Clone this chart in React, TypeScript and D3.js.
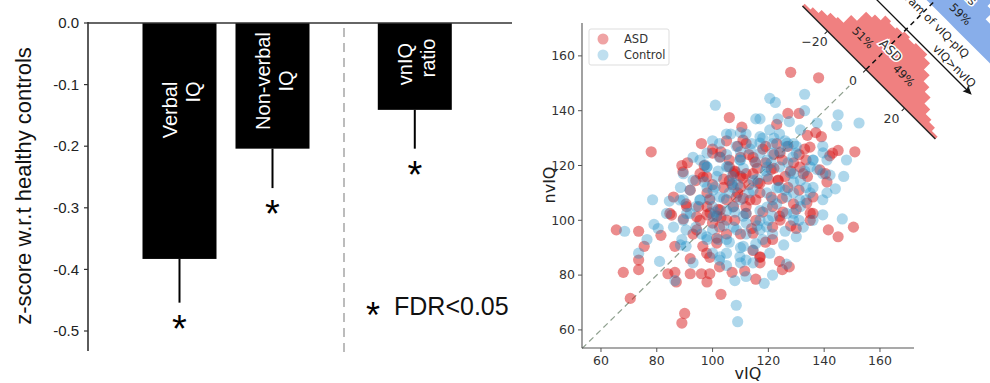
import React from 'react';
import * as d3 from 'd3';

// ---------------- data: left bar chart ----------------
const barLabels: string[][] = [['Verbal', 'IQ'], ['Non-verbal', 'IQ'], ['vnIQ', 'ratio']];
const barValues = [-0.383, -0.204, -0.141];
const barErrorEnds = [-0.454, -0.268, -0.204];
const barTicks = [0, -0.1, -0.2, -0.3, -0.4, -0.5];

// ---------------- data: scatter ----------------
const scatterTicks = [60, 80, 100, 120, 140, 160];
const asdPoints: [number, number][] = [
  [128, 154], [138, 152], [106, 137.5], [127, 139], [131, 139], [123, 135], [110.5, 134], [78, 125], [96, 128], [100, 126],
  [105, 129], [137, 132], [134, 131], [139, 130.5], [133, 126], [143, 124.5], [145, 125.5], [142, 123.5], [151, 125], [89, 120],
  [91, 121], [97, 120], [100, 124.5], [65.5, 96.5], [73.5, 96], [75.5, 90.5], [81.5, 94.5], [86.5, 90.5], [68, 81], [73.5, 82],
  [73.5, 85.5], [70.5, 71.5], [84, 80.5], [86.5, 81], [87, 77.5], [92, 80.5], [92, 86], [96, 80.5], [99, 80.5], [98, 77.5],
  [102.5, 83], [103, 73], [107, 81], [111.5, 81.5], [115.5, 78.5], [124, 85], [125, 82], [127.5, 83], [90, 66], [89, 62.5],
  [141.5, 96.5], [145, 94], [150.5, 97.5], [136, 102.5], [135, 100], [130, 97], [112, 102.5], [117, 84.5], [117, 86.5], [86, 108.5],
  [90.5, 106], [95.5, 117], [92, 111], [94, 114.5], [89.5, 100.5], [93, 95], [96.5, 90.5], [99, 86.5], [101.5, 93.5], [141, 114],
  [140.5, 117], [127, 112], [123.5, 114.5], [121, 118.5], [114.5, 123], [110, 123], [112, 128], [119, 127], [129, 121], [132.5, 117],
  [136, 108.5], [121.5, 105], [107.5, 117], [105, 107.5], [101.5, 101.5], [110, 95], [114.5, 89], [121.5, 93], [104, 112], [106, 114.5],
  [99, 107.5], [115.5, 107.5], [124, 101.5], [129, 106], [131, 111], [110, 112], [112, 117], [117, 113.5], [107.5, 105], [102.5, 97.5],
  [95.5, 100], [98, 105], [115.5, 100], [121, 108.5], [125, 122], [133.5, 122], [106, 119.5], [108.5, 108.5], [114.5, 117], [121.5, 97.5],
  [108, 118], [110, 116], [107, 113], [109, 110], [111, 108], [104, 115], [103, 101], [100, 99], [98, 102], [102, 104],
  [113, 113], [116, 119], [119, 121], [122, 124], [126, 116], [128, 118], [125, 108], [130, 104], [118, 103], [114, 97],
  [105, 95], [108, 100], [112, 105], [117, 110], [120, 115], [122, 119], [98, 110], [95, 105], [100, 113], [106, 122],
  [103, 125], [109, 127], [113, 124], [118, 126], [123, 128], [127, 127], [131, 124], [134, 116], [128, 98], [119, 92],
  [108, 117.7], [110.9, 115.4], [116.3, 113.6], [123.5, 114.7], [131.3, 119.4], [115.2, 121.3], [102.7, 123.1], [96.6, 115.8], [113.4, 107.4], [125.2, 103],
  [133.8, 106.3], [102.7, 103.8], [110.9, 129.3], [124.2, 124.6], [134.9, 126.7], [138.5, 118.4], [85.3, 101.9], [90.7, 105], [99.1, 102.7], [94.3, 101.3],
  [97.9, 115.9], [89.4, 117.7], [84.7, 102.5], [94.3, 96.5], [101.5, 91.7], [105.1, 100.1], [114.5, 95.3], [124.2, 100.1], [135, 102.6], [117, 86.7],
  [97.9, 88],
];
const controlPoints: [number, number][] = [
  [101, 142], [120.5, 144.5], [122.5, 143], [133, 146], [133, 140], [115.5, 137], [117, 137], [123.5, 137], [127.5, 136], [137.5, 135.5],
  [145, 138.5], [144.5, 134.5], [152.5, 135.5], [131.5, 133], [124, 131.5], [120.5, 133], [117, 130.5], [106.5, 131.5], [100, 129], [139.5, 127],
  [148, 122], [147, 116], [144, 111.5], [139.5, 107.5], [139.5, 102], [146.5, 100.5], [136, 100], [132.5, 97.5], [130, 94], [125.5, 91],
  [121.5, 95], [115.5, 91.5], [114.5, 84.5], [118.5, 77], [121.5, 80], [126.5, 84], [108, 78], [110, 84.5], [108.5, 69], [109, 63],
  [102.5, 85.5], [105, 93], [93, 84.5], [88.5, 91], [86.5, 78], [81, 85], [73.5, 88], [76.5, 93], [68.5, 96], [78.5, 107.5],
  [79, 98.5], [80.5, 97], [83.5, 102.5], [84.5, 107], [88.5, 112], [89.5, 117], [93, 123], [95.5, 122], [98, 124.5], [102.5, 128],
  [105, 131.5], [110, 132], [112, 131.5], [113.5, 126], [121.5, 128], [126.5, 127], [129, 128], [136, 122], [137.5, 118.5], [131.5, 114.5],
  [136, 112], [129, 110], [126.5, 102.5], [131.5, 105], [121.5, 101.5], [117, 96.5], [112, 95], [107.5, 97.5], [100, 96.5], [94, 97.5],
  [92, 102.5], [95.5, 107.5], [98, 112], [101.5, 116], [105, 119.5], [110, 122], [115.5, 121], [119.5, 122], [124, 119.5], [129, 117],
  [124, 112], [119.5, 110], [114.5, 111], [110, 107.5], [105, 103.5], [100, 105], [112, 102.5], [117, 103.5], [121.5, 107.5], [126.5, 108.5],
  [133.5, 107.5], [133.5, 112], [119.5, 116], [114.5, 114.5], [107.5, 112], [102.5, 108.5], [94, 105], [90.5, 96.5], [98, 93], [105, 88],
  [111, 90.5], [112, 85.5], [120.5, 88], [117, 100], [129, 100], [98, 119.5], [102.5, 123], [108.5, 127], [117, 124.5], [121.5, 124.5],
  [130, 124.5], [135, 119.5], [139.5, 117], [141, 122], [141, 110], [111, 101.5], [101.5, 101.5], [89.5, 107.5], [86, 97.5], [90.5, 90.5],
  [105, 83.5], [112, 79.5], [89, 93], [89.5, 100],
  [107, 116], [109, 113], [111, 119], [106, 110], [104, 108], [113, 110], [116, 115], [119, 118], [121, 121], [124, 125],
  [127, 121], [129, 114], [126, 111], [123, 106], [120, 100], [116, 98], [112, 99], [108, 103], [104, 98], [101, 103],
  [99, 108], [97, 114], [102, 118], [105, 124], [110, 125], [114, 128], [118, 130], [122, 130], [126, 129], [130, 127],
  [133, 118], [135, 110], [131, 100], [126, 96], [118, 93], [110, 90], [106, 92], [102, 93], [96, 95], [100, 88],
  [105.5, 119.6], [107, 113.6], [123.1, 111.8], [127.8, 117.3], [136, 122], [119.5, 119.4], [109.8, 122], [98, 119.4], [100.9, 112.1], [119.5, 104.8],
  [131.3, 107.4], [107.3, 104.8], [117, 128.2], [126.7, 128.2], [128.8, 123.1], [139.6, 124.6], [142.1, 116.5], [91.9, 111], [95.5, 107.4], [88.3, 107.4],
  [100.2, 111], [97.3, 120.2], [93, 114.7], [90.7, 102.5], [97.9, 94], [100.2, 101.3], [108.6, 96.5], [119.4, 97.6], [129, 102.6], [114.5, 89.2],
  [109.8, 86.7], [102.7, 86.7],
];

// ---------------- data: rotated histogram inset (vIQ - nvIQ) ----------------
const histBinEdges = [-33, -30, -27, -24, -21, -18, -15, -12, -9, -6, -3, 0, 3, 6, 9, 12, 15, 18, 21, 24, 27, 30, 33, 36];
const asdHistCounts = [1.5, 3, 5, 7, 8, 13, 19, 21, 24, 23, 24, 25, 24, 25, 25, 23, 19, 15, 12, 8, 5, 3.5, 1.5];
const controlHistCounts = [1, 2, 4, 6, 9, 12, 15, 19, 22, 24, 26, 26, 26, 25, 24, 22, 18, 13, 12, 9, 6, 3, 1];
const histTicks = [-20, 0, 20];
const asdSplit = ['51%', '49%'];
const controlSplit = ['41%', '59%'];

export default function App() {
  const W = 990, H = 383;

  // ----- left chart scales -----
  const yBar = d3.scaleLinear().domain([0, -0.5]).range([23, 331]);
  const xBar = d3.scaleLinear().domain([0, 1]).range([179.5, 272.5]);
  const barPos = [0, 1, 2.53];
  const barW = 74;
  const labelLineY = [[110, 92], [81, 81], [64, 58]];
  const axisX = 88;
  const axisBottom = 351;

  // ----- scatter scales -----
  const xS = d3.scaleLinear().domain([53.2, 172.2]).range([582, 914]);
  const yS = d3.scaleLinear().domain([53.4, 172]).range([348, 23]);

  // ----- inset geometry -----
  const ox = xS(155), oy = yS(155);
  const uS = d3.scaleLinear().domain([-20, 20]).range([-54.5, 54.5]);
  const hS = d3.scaleLinear().domain([0, 25]).range([0, 54]);
  const c45 = Math.SQRT1_2;
  const toScreen = (d: number, h: number): [number, number] => [ox + (d + h) * c45, oy + (d - h) * c45];
  const blueBase = 92;
  const arrowH = 57;

  const histArea = (counts: number[], base: number) => {
    const pts = histBinEdges.map((e, i) => ({ e, c: i < counts.length ? counts[i] : counts[counts.length - 1] }));
    return d3.area<{ e: number; c: number }>()
      .x(p => uS(p.e))
      .y0(-base)
      .y1(p => -base - hS(p.c))
      .curve(d3.curveStepAfter)(pts) || '';
  };

  const sansL = 'Liberation Sans, Arial, sans-serif';
  const sansD = 'DejaVu Sans, sans-serif';
  const tickCol = '#333';
  const red = '#d8191c', redOp = 0.5;
  const blue = '#1f8fc8', blueOp = 0.36;

  return (
    <svg width={W} height={H} style={{ position: 'absolute', left: 0, top: 0, background: '#fff' }}>
      <rect x={0} y={0} width={W} height={H} fill="#fff" />
      {/* ================= LEFT BAR CHART ================= */}
      <g>
        {barValues.map((v, i) => {
          const cx = xBar(barPos[i]);
          return (
            <g key={i}>
              <rect x={cx - barW / 2} y={yBar(0)} width={barW} height={yBar(v) - yBar(0)} fill="#000" />
              <line x1={cx} x2={cx} y1={yBar(v)} y2={yBar(barErrorEnds[i])} stroke="#000" strokeWidth={2} />
              <text x={cx} y={yBar(barErrorEnds[i]) + 39} textAnchor="middle" fontFamily={sansL} fontSize={38} fill="#000">*</text>
              <text transform={`translate(${cx - 3},${labelLineY[i][0]}) rotate(-90)`} textAnchor="middle"
                fontFamily={sansL} fontSize={20} fill="#fff">{barLabels[i][0]}</text>
              <text transform={`translate(${cx + 20},${labelLineY[i][1]}) rotate(-90)`} textAnchor="middle"
                fontFamily={sansL} fontSize={20} fill="#fff">{barLabels[i][1]}</text>
            </g>
          );
        })}
        <line x1={axisX} x2={512} y1={yBar(0)} y2={yBar(0)} stroke="#333" strokeWidth={1.6} />
        <line x1={axisX} x2={axisX} y1={yBar(0) - 1} y2={axisBottom} stroke="#333" strokeWidth={1.6} />
        {barTicks.map(t => (
          <g key={t}>
            <line x1={axisX - 4} x2={axisX} y1={yBar(t)} y2={yBar(t)} stroke="#333" strokeWidth={1.2} />
            <text x={79} y={yBar(t)} dy="0.35em" textAnchor="end" fontFamily={sansL} fontSize={15} fill="#222">{t.toFixed(1)}</text>
          </g>
        ))}
        <line x1={344} x2={344} y1={28} y2={353} stroke="#999" strokeWidth={1.3} strokeDasharray="9,6" />
        <text transform={`translate(31,186) rotate(-90)`} textAnchor="middle" fontFamily={sansL} fontSize={22} fill="#111">
          z-score w.r.t healthy controls
        </text>
        <text x={373} y={328} textAnchor="middle" fontFamily={sansL} fontSize={36} fill="#000">*</text>
        <text x={394} y={315} fontFamily={sansL} fontSize={25} fill="#111">FDR&lt;0.05</text>
      </g>

      {/* ================= SCATTER ================= */}
      <g>
        <line x1={xS(53.2)} y1={yS(53.2)} x2={xS(149)} y2={yS(149)} stroke="#8fa08f" strokeWidth={1.2} strokeDasharray="6,4" />
        {asdPoints.map((p, i) => (
          <circle key={'a' + i} cx={xS(p[0])} cy={yS(p[1])} r={5.6} fill={red} fillOpacity={redOp} />
        ))}
        {controlPoints.map((p, i) => (
          <circle key={'c' + i} cx={xS(p[0])} cy={yS(p[1])} r={5.6} fill={blue} fillOpacity={blueOp} />
        ))}
        <line x1={582} x2={582} y1={23} y2={348} stroke="#555" strokeWidth={1.1} />
        <line x1={582} x2={914} y1={348} y2={348} stroke="#555" strokeWidth={1.1} />
        {scatterTicks.map(t => (
          <g key={'xt' + t}>
            <line x1={xS(t)} x2={xS(t)} y1={348} y2={352} stroke="#555" />
            <text x={xS(t)} y={365} textAnchor="middle" fontFamily={sansD} fontSize={12.5} fill={tickCol}>{t}</text>
            <line x1={578} x2={582} y1={yS(t)} y2={yS(t)} stroke="#555" />
            <text x={575} y={yS(t)} dy="0.35em" textAnchor="end" fontFamily={sansD} fontSize={12.5} fill={tickCol}>{t}</text>
          </g>
        ))}
        <text x={748} y={379} textAnchor="middle" fontFamily={sansD} fontSize={16} fill="#222">vIQ</text>
        <text transform={`translate(555,185) rotate(-90)`} textAnchor="middle" fontFamily={sansD} fontSize={16} fill="#222">nvIQ</text>
        {/* legend */}
        <rect x={589} y={29} width={80} height={36} rx={2} fill="#fff" fillOpacity={0.85} stroke="#ddd" />
        <circle cx={603} cy={39} r={5.5} fill={red} fillOpacity={redOp * 0.8} />
        <circle cx={603} cy={55} r={5.5} fill={blue} fillOpacity={blueOp * 0.8} />
        <text x={624} y={39} dy="0.35em" fontFamily={sansD} fontSize={11.5} fill={tickCol}>ASD</text>
        <text x={624} y={55} dy="0.35em" fontFamily={sansD} fontSize={11.5} fill={tickCol}>Control</text>
      </g>

      {/* ================= ROTATED HISTOGRAM INSET ================= */}
      <g>
        <g transform={`translate(${ox},${oy}) rotate(45)`}>
          <path d={histArea(asdHistCounts, 0)} fill="#f08080" />
          <path d={histArea(controlHistCounts, blueBase)} fill="#88aeea" />
          <line x1={uS(histBinEdges[0])} x2={uS(histBinEdges[histBinEdges.length - 1])} y1={0} y2={0} stroke="#222" strokeWidth={1.4} />
          {histTicks.map(t => (
            <line key={t} x1={uS(t)} x2={uS(t)} y1={0} y2={4} stroke="#222" strokeWidth={1} />
          ))}
          <line x1={0} x2={0} y1={0} y2={-200} stroke="#111" strokeWidth={1.5} strokeDasharray="5,4" />
          <line x1={-200} x2={uS(32)} y1={-arrowH} y2={-arrowH} stroke="#111" strokeWidth={1.3} />
          <path d={`M${uS(33.5)},${-arrowH} L${uS(31)},${-arrowH - 3} L${uS(31.5)},${-arrowH} L${uS(31)},${-arrowH + 3} Z`} fill="#111" stroke="#111" />
          <text x={-24.7} y={-20.5} dy="0.35em" textAnchor="middle" fontFamily={sansD} fontSize={11.5} fill="#222">{asdSplit[0]}</text>
          <text x={31} y={-22.6} dy="0.35em" textAnchor="middle" fontFamily={sansD} fontSize={11.5} fill="#222">{asdSplit[1]}</text>
          <text x={4} y={-31} dy="0.35em" textAnchor="middle" fontFamily={sansD} fontSize={12.5} fill="#333"
            stroke="#fff" strokeWidth={3} paintOrder="stroke">ASD</text>
          <text x={-25} y={-106} dy="0.35em" textAnchor="middle" fontFamily={sansD} fontSize={11.5} fill="#222">{controlSplit[0]}</text>
          <text x={27.6} y={-106} dy="0.35em" textAnchor="middle" fontFamily={sansD} fontSize={11.5} fill="#222">{controlSplit[1]}</text>
          <text x={4} y={-124} dy="0.35em" textAnchor="middle" fontFamily={sansD} fontSize={12.5} fill="#333"
            stroke="#fff" strokeWidth={3} paintOrder="stroke">Controls</text>
          <text x={60} y={-65} dy="0.35em" textAnchor="middle" fontFamily={sansD} fontSize={11.5} fill="#222">vIQ&gt;nvIQ</text>
          <text x={62} y={-81} dy="0.35em" textAnchor="end" fontFamily={sansD} fontSize={11.5} fill="#222">Histogram of vIQ-pIQ</text>
        </g>
        {histTicks.map(t => {
          const [sx, sy] = toScreen(uS(t), 0);
          return (
            <text key={'ht' + t} x={sx - 13} y={sy + 11} dy="0.35em" textAnchor="middle" fontFamily={sansD} fontSize={12.5} fill={tickCol}>
              {t < 0 ? '\u2212' + Math.abs(t) : t}
            </text>
          );
        })}
      </g>
    </svg>
  );
}
